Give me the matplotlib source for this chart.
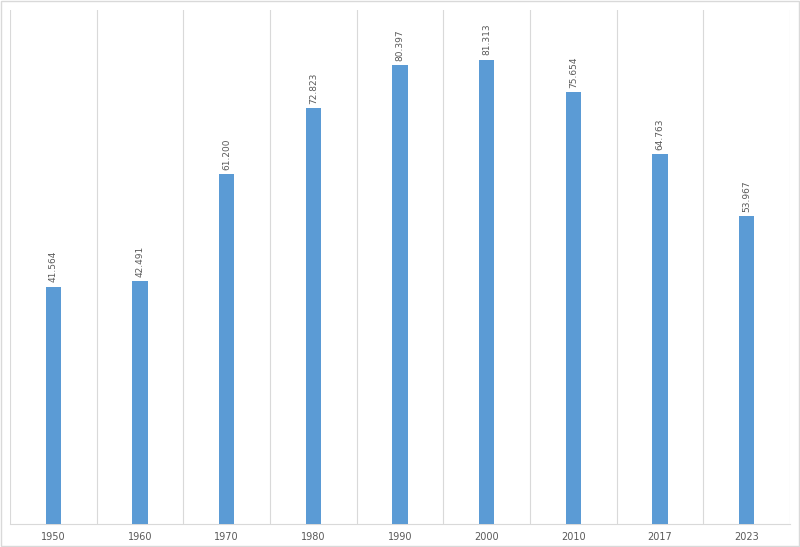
import matplotlib
matplotlib.use("Agg")
import matplotlib.pyplot as plt
from matplotlib.patches import Rectangle

years = ["1950", "1960", "1970", "1980", "1990", "2000", "2010", "2017", "2023"]
values = [41564, 42491, 61200, 72823, 80397, 81313, 75654, 64763, 53967]
labels = ["41.564", "42.491", "61.200", "72.823", "80.397", "81.313", "75.654", "64.763", "53.967"]

fig = plt.figure(figsize=(8, 5.47), dpi=100)
ax = fig.add_axes([10/800, 1-524/547, 780/800, 514/547])
x = list(range(len(years)))
ax.bar(x, values, width=0.18, color="#5B9BD5", zorder=3)
ax.set_xlim(-0.5, len(years) - 0.5)
ax.set_ylim(0, 90000)
for i in range(len(years) + 1):
    ax.axvline(i - 0.5, color="#D9D9D9", lw=0.8, zorder=1)
for xi, v, l in zip(x, values, labels):
    ax.annotate(l, (xi, v), xytext=(0, 3), textcoords="offset points",
                rotation=90, ha="center", va="bottom", fontsize=6.5, color="#595959")
ax.set_xticks(x)
ax.set_xticklabels(years, fontsize=7, color="#595959")
for lbl in ax.get_xticklabels():
    lbl.set_fontfamily("DejaVu Sans")
ax.tick_params(axis="x", length=0, pad=6)
ax.set_yticks([])
for s in ["top", "left", "right"]:
    ax.spines[s].set_visible(False)
ax.spines["bottom"].set_color("#D9D9D9")
fig.patches.append(Rectangle((0.001, 0.001), 0.998, 0.998, transform=fig.transFigure,
                             fill=False, edgecolor="#D9D9D9", lw=1))
fig.savefig("out.png", dpi=100)
